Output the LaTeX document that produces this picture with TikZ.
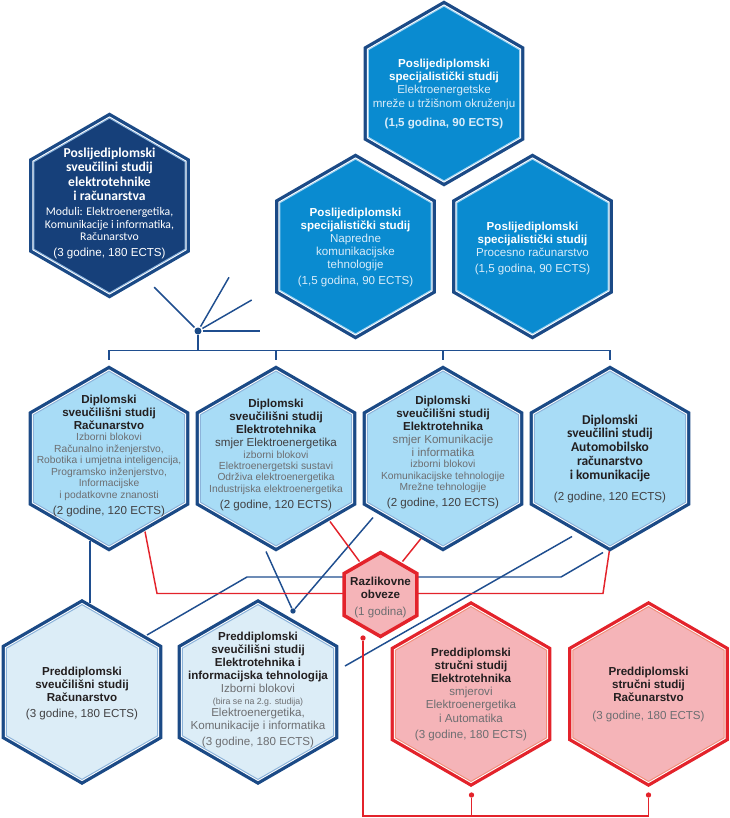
\documentclass[tikz,border=0pt]{standalone}
\usepackage{fontspec}
\setmainfont{Liberation Sans}
\newfontfamily\myriad{Carlito}
\usetikzlibrary{shapes.geometric,calc,backgrounds}

\definecolor{navy}{HTML}{1B4A86}
\definecolor{linkblue}{HTML}{1F4E8F}
\definecolor{darkfill}{HTML}{16407A}
\definecolor{darkline}{HTML}{8DB5DD}
\definecolor{midfill}{HTML}{0A8BD0}
\definecolor{midline}{HTML}{9FD3F2}
\definecolor{lightfill}{HTML}{A8DCF6}
\definecolor{lightline}{HTML}{8CB3DA}
\definecolor{palefill}{HTML}{DCEDF7}
\definecolor{red1}{HTML}{E3232B}
\definecolor{salmon}{HTML}{F0907E}
\definecolor{pinkfill}{HTML}{F5B4B8}
\definecolor{txtdark}{HTML}{231F20}
\definecolor{txtmid}{HTML}{414042}
\definecolor{txtgray}{HTML}{6D6E71}
\definecolor{txtlight}{HTML}{D9ECF9}

\newcommand\ttl{\fontsize{8.7}{9.8}\selectfont\bfseries}
\newcommand\dtl[1]{\par\normalfont\fontsize{7.7}{8.6}\selectfont\leavevmode\color{#1}}
\newcommand\crd[1]{\par\normalfont\fontsize{8.7}{9.8}\selectfont\leavevmode\color{#1}}

\begin{document}
\begin{tikzpicture}[x=0.75pt,y=0.75pt,yscale=-1,xscale=1,
  hex/.style={regular polygon, regular polygon sides=6, regular polygon rotate=30, inner sep=0pt, minimum size=131.1pt, line width=0.75pt},
  hexnavy/.style={hex, preaction={draw=navy, line width=7.2pt}, preaction={draw=white, line width=2.25pt}},
  hexdark/.style={hexnavy, fill=darkfill, draw=darkline},
  hexmid/.style={hexnavy, fill=midfill, draw=midline},
  hexlight/.style={hexnavy, fill=lightfill, draw=lightline},
  hexpale/.style={hexnavy, fill=palefill, draw=lightline},
  hexred/.style={hex, preaction={draw=red1, line width=7.2pt}, preaction={draw=white, line width=2.25pt}, fill=pinkfill, draw=salmon},
  hexsmall/.style={regular polygon, regular polygon sides=6, regular polygon rotate=30, inner sep=0pt, minimum size=63pt, line width=2.6pt, fill=pinkfill, draw=red1},
  txt/.style={text width=118pt, align=flush center, inner sep=0pt, anchor=north, text=txtdark},
  conn/.style={draw=linkblue, line width=1.1pt},
  rconn/.style={draw=red1, line width=1.1pt},
  jdot/.style={circle, fill=#1, inner sep=0pt, minimum size=4pt},
]
  \useasboundingbox (0,0) rectangle (730,818);

  %Hexagons: postgraduate
  \node[hexdark] (pdok) at (109.5,205.5) {};
  \node[hexmid] (pemr) at (444,93.5) {};
  \node[hexmid] (pnkt) at (355.5,246.5) {};
  \node[hexmid] (ppr) at (532.5,246.5) {};
  %Hexagons: graduate
  \node[hexlight] (dr) at (109,458.5) {};
  \node[hexlight] (dee) at (276,458.5) {};
  \node[hexlight] (dki) at (443,458.5) {};
  \node[hexlight] (dar) at (610,458.5) {};
  %Hexagons: undergraduate
  \node[hexpale] (pr) at (82,692) {};
  \node[hexpale] (peit) at (258,692) {};
  \node[hexred] (sel) at (471,694) {};
  \node[hexred] (sr) at (648.5,694) {};
  \node[hexsmall] (razl) at (380.5,594.5) {};

  %Junction dots
  \node[jdot=navy, minimum size=5.25pt] (hub) at (198,331) {};
  \node[jdot=navy] (hub2) at ($(peit)+(35,-81)$) {};
  \node[jdot=red1] (rd1) at ($(razl)+(-17.5,43.5)$) {};
  \node[jdot=red1] (rd2) at ($(sel)+(0.5,101)$) {};
  \node[jdot=red1] (rd3) at ($(sr)+(0,101)$) {};

  % Text Node
  \node[txt, text=white] (pdok-t) at ($(pdok)+(0,-57.8)$) {\myriad\fontsize{10.2}{10.7}\selectfont\bfseries Poslijediplomski\\ sveučilini studij\\ elektrotehnike\\ i računarstva\par\vspace{2pt}\fontsize{8.8}{9.5}\selectfont\mdseries Moduli: Elektroenergetika,\\ Komunikacije i informatika,\\ Računarstvo\crd{white}(3 godine, 180 ECTS)};
  % Text Node
  \node[txt, text=white] (pemr-t) at ($(pemr)+(0,-34.8)$) {\ttl Poslijediplomski\\ specijalistički studij\crd{txtlight}Elektroenergetske\\[0.8pt] mreže u tržišnom okruženju\par\vspace{2.5pt}\ttl (1,5 godina, 90 ECTS)};
  % Text Node
  \node[txt, text=white] (pnkt-t) at ($(pnkt)+(0,-38.5)$) {\ttl Poslijediplomski\\ specijalistički studij\crd{txtlight}Napredne\\ komunikacijske\\ tehnologije\\ (1,5 godina, 90 ECTS)};
  % Text Node
  \node[txt, text=white] (ppr-t) at ($(ppr)+(0,-25.1)$) {\ttl Poslijediplomski\\ specijalistički studij\crd{txtlight}Procesno računarstvo\\ (1,5 godina, 90 ECTS)};
  % Text Node
  \node[txt] (dr-t) at ($(dr)+(0,-63.8)$) {\ttl Diplomski\\ sveučilišni studij\\ Računarstvo\dtl{txtgray}Izborni blokovi\\ Računalno inženjerstvo,\\ Robotika i umjetna inteligencija,\\ Programsko inženjerstvo,\\ Informacijske\\ i podatkovne znanosti\crd{txtmid}(2 godine, 120 ECTS)};
  % Text Node
  \node[txt] (dee-t) at ($(dee)+(0,-59.8)$) {\ttl Diplomski\\ sveučilišni studij\\ Elektrotehnika\crd{txtmid}smjer Elektroenergetika\dtl{txtgray}izborni blokovi\\ Elektroenergetski sustavi\\ Održiva elektroenergetika\\ Industrijska elektroenergetika\crd{txtmid}(2 godine, 120 ECTS)};
  % Text Node
  \node[txt] (dki-t) at ($(dki)+(0,-63.1)$) {\ttl Diplomski\\ sveučilišni studij\\ Elektrotehnika\crd{txtgray}smjer Komunikacije\\ i informatika\dtl{txtgray}izborni blokovi\\ Komunikacijske tehnologije\\ Mrežne tehnologije\crd{txtmid}(2 godine, 120 ECTS)};
  % Text Node
  \node[txt] (dar-t) at ($(dar)+(0,-44.1)$) {\myriad\fontsize{10.1}{10.35}\selectfont\bfseries Diplomski\\ sveučilini studij\\ Automobilsko\\ računarstvo\\ i komunikacije\par\vspace{3.9pt}\crd{txtmid}(2 godine, 120 ECTS)};
  % Text Node
  \node[txt] (pr-t) at ($(pr)+(0,-25.6)$) {\ttl Preddiplomski\\ sveučilišni studij\\ Računarstvo\crd{txtmid}(3 godine, 180 ECTS)};
  % Text Node
  \node[txt] (peit-t) at ($(peit)+(0,-60.6)$) {\ttl Preddiplomski\\ sveučilišni studij\\ Elektrotehnika i\\ informacijska tehnologija\crd{txtgray}Izborni blokovi\par\fontsize{6.6}{8.8}\selectfont (bira se na 2.g. studija)\par\fontsize{8.7}{9.5}\selectfont Elektroenergetika,\\ Komunikacije i informatika\\ (3 godine, 180 ECTS)};
  % Text Node
  \node[txt] (sel-t) at ($(sel)+(0,-46)$) {\ttl Preddiplomski\\ stručni studij\\ Elektrotehnika\crd{txtgray}smjerovi\\ Elektroenergetika\\ i Automatika\par\vspace{0.6pt}\crd{txtgray}(3 godine, 180 ECTS)};
  % Text Node
  \node[txt] (sr-t) at ($(sr)+(0,-27)$) {\ttl Preddiplomski\\ stručni studij\\ Računarstvo\par\vspace{1.4pt}\crd{txtgray}(3 godine, 180 ECTS)};
  % Text Node
  \node[txt] (razl-t) at ($(razl)+(0,-18.1)$) {\ttl Razlikovne\\ obveze\par\vspace{0.9pt}\crd{txtgray}(1 godina)};

  \begin{pgfonlayer}{background}
    %Blue tree from the postgraduate studies
    \foreach \a in {-135,-60,-30,0}
      \draw[conn, shorten <=1pt] (hub) -- ++(\a:62);
    \draw[conn] (hub) -- ++(0,19);
    \draw[conn] ($(dr.90)+(0,-11)$) |- ($(dar.90)+(0,-20)$) -- ++(0,9);
    \draw[conn] ($(dee.90)+(0,-11)$) -- ++(0,-9);
    \draw[conn] ($(dki.90)+(0,-11)$) -- ++(0,-9);
    %Blue links to undergraduate
    \draw[conn] ($(dr)+(-19,82)$) -- ($(pr)+(8,-89)$);
    \draw[conn] ($(pr)+(65,-57)$) -- ++(100,-58) -- ++(314,0) -- ($(dar)+(-7,94)$);
    \draw[conn] ($(dee)+(-10,93)$) -- (hub2) -- ($(dki)+(-70,59)$);
    \draw[conn] ($(peit)+(87,-26)$) -- ($(dar)+(-38,78)$);
    %Red links
    \draw[rconn] ($(dr)+(36,73)$) -- ++(12,62) -- ++(446,0) -- (dar.-90);
    \draw[rconn] ($(dee)+(54,63)$) -- ($(razl)+(-21,-33)$);
    \draw[rconn] ($(dki)+(-22,80)$) -- ($(razl)+(22,-33)$);
    \draw[rconn] (rd1) -- ++(0,178) -| (rd3);
    \draw[rconn] (rd2) -- ++(0,21);
  \end{pgfonlayer}
\end{tikzpicture}
\end{document}
